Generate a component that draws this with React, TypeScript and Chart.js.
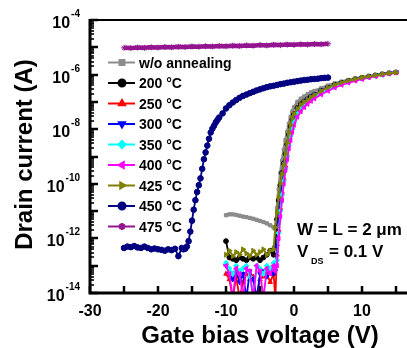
import React, { useEffect, useRef } from "react";
import { Chart, registerables } from "chart.js";
import { drawPoint } from "chart.js/helpers";

Chart.register(...registerables);

// Gate voltages for the annealed / as-deposited devices (V)
const VG_A = [-10, -9.5, -9, -8.5, -8, -7.5, -7, -6.5, -6, -5.5, -5, -4.5, -4, -3.5, -3,
  -2.75, -2.5, -2.25, -2, -1.75, -1.5, -1.25, -1, -0.75, -0.5, -0.25, 0,
  0.5, 1, 1.5, 2, 2.5, 3,
  4, 5, 6, 7, 8, 9, 10, 11, 12, 13, 14, 15];

// log10 of drain current (A)
const LOG_WO = [-11.15, -11.12, -11.12, -11.14, -11.17, -11.2, -11.22, -11.25, -11.28, -11.32, -11.36, -11.4, -11.45, -11.52, -11.6,
  -11.65, -10.9, -10.2, -9.6, -9.15, -8.75, -8.4, -8.1, -7.8, -7.55, -7.35, -7.2,
  -7.0, -6.88, -6.8, -6.72, -6.65, -6.6,
  -6.5, -6.4, -6.32, -6.26, -6.2, -6.15, -6.1, -6.06, -6.02, -5.98, -5.95, -5.92];
const LOG_200 = [-12.1, -12.7, -12.75, -12.8, -12.7, -12.75, -12.8, -12.7, -12.75, -12.7, -12.8, -12.7, -12.6, -12.45, -12.6,
  -12.3, -11.3, -10.6, -10.05, -9.6, -9.25, -8.9, -8.55, -8.2, -7.9, -7.65, -7.45,
  -7.22, -7.08, -6.98, -6.9, -6.81, -6.74,
  -6.6, -6.48, -6.38, -6.3, -6.23, -6.17, -6.12, -6.07, -6.03, -5.99, -5.95, -5.92];
const LOG_250 = [-13.3, -13.5, -14.2, -13.4, -14.2, -13.6, -13.3, -13.5, -13.4, -14.2, -13.5, -13.4, -13.3, -13.6, -13.3,
  -14.2, -12.6, -11.7, -10.9, -10.3, -9.8, -9.35, -8.95, -8.55, -8.2, -7.95, -7.7,
  -7.4, -7.2, -7.06, -6.95, -6.85, -6.77,
  -6.63, -6.52, -6.41, -6.33, -6.26, -6.2, -6.14, -6.09, -6.04, -6.0, -5.96, -5.92];
const LOG_300 = [-13.0, -13.3, -13.5, -13.2, -13.6, -13.3, -14.2, -13.2, -13.5, -14.2, -13.3, -13.2, -13.4, -13.1, -13.3,
  -13.2, -12.3, -11.4, -10.7, -10.1, -9.6, -9.2, -8.8, -8.45, -8.1, -7.85, -7.6,
  -7.3, -7.12, -7.0, -6.9, -6.8, -6.72,
  -6.58, -6.47, -6.38, -6.3, -6.23, -6.17, -6.12, -6.07, -6.02, -5.98, -5.95, -5.91];
const LOG_350 = [-12.9, -13.1, -13.3, -13.0, -13.2, -13.1, -13.0, -13.4, -14.2, -13.0, -13.1, -13.3, -13.0, -13.1, -12.9,
  -13.0, -12.8, -11.8, -11.0, -10.4, -9.9, -9.45, -9.0, -8.6, -8.25, -8.0, -7.75,
  -7.45, -7.25, -7.1, -6.98, -6.88, -6.8,
  -6.66, -6.54, -6.43, -6.34, -6.27, -6.2, -6.14, -6.09, -6.04, -6.0, -5.96, -5.92];
const LOG_400 = [-13.0, -13.3, -14.2, -13.1, -13.3, -14.2, -13.1, -13.2, -14.2, -13.0, -13.2, -14.2, -13.1, -13.3, -13.0,
  -13.2, -13.0, -12.0, -11.2, -10.6, -10.0, -9.5, -9.1, -8.7, -8.4, -8.1, -7.85,
  -7.55, -7.35, -7.2, -7.08, -6.97, -6.88,
  -6.73, -6.6, -6.48, -6.38, -6.3, -6.23, -6.17, -6.11, -6.06, -6.01, -5.97, -5.93];
const LOG_425 = [-12.6, -12.45, -12.65, -12.5, -12.6, -12.4, -12.55, -12.65, -12.45, -12.6, -12.5, -12.4, -12.6, -12.45, -12.4,
  -11.6, -11.05, -10.5, -10.0, -9.65, -9.3, -8.9, -8.5, -8.15, -7.85, -7.6, -7.45,
  -7.25, -7.1, -7.0, -6.92, -6.82, -6.74,
  -6.6, -6.47, -6.37, -6.29, -6.22, -6.16, -6.11, -6.06, -6.02, -5.98, -5.95, -5.92];

// 450 °C device
const VG_450 = [-25, -24.5, -24, -23.5, -23, -22.5, -22, -21.5, -21, -20.5, -20, -19.5, -19, -18.5, -18, -17.5, -17, -16.5,
  -16.25, -16, -15.75, -15.5, -15.25, -15, -14.75, -14.5, -14.25, -14, -13.75, -13.5, -13.25, -13, -12.75, -12.5, -12.25, -12, -11.75, -11.5, -11.25, -11,
  -10.5, -10, -9.5, -9, -8.5, -8, -7.5, -7, -6.5, -6, -5.5, -5, -4.5, -4, -3.5, -3, -2.5, -2, -1.5, -1, -0.5, 0, 0.5, 1, 1.5, 2, 2.5, 3, 3.5, 4, 4.5, 5];
const LOG_450 = [-12.35, -12.3, -12.32, -12.28, -12.33, -12.35, -12.3, -12.35, -12.4, -12.37, -12.4, -12.42, -12.45, -12.4, -12.43, -12.38, -12.65, -12.35,
  -12.4, -12.38, -12.3, -12.1, -11.75, -11.35, -10.95, -10.6, -10.3, -10.05, -9.8, -9.45, -9.1, -8.85, -8.6, -8.35, -8.12, -7.98, -7.87, -7.75, -7.66, -7.57,
  -7.42, -7.24, -7.12, -7.02, -6.93, -6.85, -6.78, -6.73, -6.68, -6.63, -6.58, -6.54, -6.5, -6.46, -6.43, -6.41, -6.38, -6.35, -6.33, -6.3, -6.28, -6.26, -6.24, -6.22, -6.2, -6.19, -6.17, -6.16, -6.15, -6.13, -6.12, -6.11];

// 475 °C device
const VG_475 = [-25, -24, -23, -22, -21, -20, -19, -18, -17, -16, -15, -14, -13, -12, -11, -10, -9, -8, -7, -6, -5, -4, -3, -2, -1, 0, 1, 2, 3, 4, 5];
const LOG_475 = [-5.02, -5.03, -5.01, -5.02, -5.0, -5.01, -4.99, -5.0, -4.98, -4.99, -4.97, -4.98, -4.96, -4.97, -4.95, -4.96, -4.94, -4.95, -4.93, -4.94, -4.92, -4.93, -4.91, -4.92, -4.9, -4.91, -4.89, -4.9, -4.88, -4.89, -4.87];

const SERIES = [
  { label: "w/o annealing", x: VG_A, y: LOG_WO, color: "#8c8c8c", style: "rect", rot: 0, lw: 3, r: 2.3 },
  { label: "200 °C", x: VG_A, y: LOG_200, color: "#000000", style: "circle", rot: 0, lw: 1.8, r: 2.4 },
  { label: "250 °C", x: VG_A, y: LOG_250, color: "#ff0000", style: "triangle", rot: 0, lw: 1.8, r: 2.6 },
  { label: "300 °C", x: VG_A, y: LOG_300, color: "#0000ff", style: "triangle", rot: 180, lw: 1.8, r: 2.6 },
  { label: "350 °C", x: VG_A, y: LOG_350, color: "#00ffff", style: "rectRot", rot: 0, lw: 1.8, r: 2.6 },
  { label: "400 °C", x: VG_A, y: LOG_400, color: "#ff00ff", style: "triangle", rot: -90, lw: 1.8, r: 2.6 },
  { label: "425 °C", x: VG_A, y: LOG_425, color: "#808000", style: "triangle", rot: 90, lw: 2, r: 2.8 },
  { label: "450 °C", x: VG_450, y: LOG_450, color: "#000080", style: "circle", rot: 0, lw: 1.8, r: 2.8 },
  { label: "475 °C", x: VG_475, y: LOG_475, color: "#93158f", style: "star", rot: 0, lw: 4.5, r: 3 },
];

const X_TICKS = [-30, -20, -10, 0, 10, 20];
const Y_LABEL_EXPS = [-4, -6, -8, -10, -12, -14];
const FONT = '"Liberation Sans", Arial, sans-serif';

const overlay = {
  id: "overlay",
  afterDraw(chart: any) {
    const { ctx, chartArea: a, scales } = chart;
    const xs = scales.x;
    const ys = scales.y;
    ctx.save();
    ctx.strokeStyle = "#000";
    ctx.fillStyle = "#000";
    // frame
    ctx.lineWidth = 2;
    ctx.beginPath();
    ctx.moveTo(a.left, a.top);
    ctx.lineTo(a.right, a.top);
    ctx.lineTo(a.right, a.bottom);
    ctx.stroke();
    ctx.lineWidth = 3;
    ctx.beginPath();
    ctx.moveTo(a.left, a.top - 1);
    ctx.lineTo(a.left, a.bottom);
    ctx.lineTo(a.right, a.bottom);
    ctx.stroke();
    // y ticks (inward)
    for (let e = -14; e <= -4; e++) {
      for (let m = 1; m <= 9; m++) {
        if (e === -4 && m > 1) break;
        const py = Math.round(ys.getPixelForValue(m * Math.pow(10, e)));
        const len = m === 1 ? 8 : 4;
        ctx.lineWidth = m === 1 ? 2.5 : 1.6;
        ctx.beginPath();
        ctx.moveTo(a.left, py);
        ctx.lineTo(a.left + len, py);
        ctx.stroke();
      }
    }
    // x ticks (inward)
    ctx.lineWidth = 2.5;
    for (let v = -30; v <= 20; v += 5) {
      const px = xs.getPixelForValue(v);
      ctx.beginPath();
      ctx.moveTo(px, a.bottom);
      ctx.lineTo(px, a.bottom - 7);
      ctx.stroke();
    }
    // x tick labels
    ctx.font = `bold 16px ${FONT}`;
    ctx.textAlign = "center";
    ctx.textBaseline = "alphabetic";
    for (const v of X_TICKS) {
      ctx.fillText(String(v), xs.getPixelForValue(v), a.bottom + 23);
    }
    // y tick labels with superscripts
    for (const e of Y_LABEL_EXPS) {
      const py = ys.getPixelForValue(Math.pow(10, e));
      ctx.font = `bold 10px ${FONT}`;
      const sup = String(e);
      const wSup = ctx.measureText(sup).width;
      ctx.font = `bold 16px ${FONT}`;
      const wBase = ctx.measureText("10").width;
      const right = 80;
      ctx.textAlign = "left";
      ctx.fillText("10", right - wSup - wBase - 1, py + 8);
      ctx.font = `bold 10px ${FONT}`;
      ctx.fillText(sup, right - wSup, py - 3);
    }
    // axis titles
    ctx.font = `bold 24px ${FONT}`;
    ctx.textAlign = "center";
    ctx.fillText("Gate bias voltage (V)", (a.left + a.right) / 2, 343);
    ctx.save();
    ctx.translate(32, (a.top + a.bottom) / 2 - 2);
    ctx.rotate(-Math.PI / 2);
    ctx.fillText("Drain current (A)", 0, 0);
    ctx.restore();
    // legend
    ctx.textAlign = "left";
    ctx.font = `bold 14px ${FONT}`;
    SERIES.forEach((s, i) => {
      const ry = 62.5 + i * 20.5;
      ctx.strokeStyle = s.color;
      ctx.fillStyle = s.color;
      ctx.lineWidth = 2;
      ctx.beginPath();
      ctx.moveTo(108, ry);
      ctx.lineTo(135, ry);
      ctx.stroke();
      drawPoint(ctx, { pointStyle: s.style, rotation: s.rot, radius: 3.5, borderWidth: 1 } as any, 122, ry);
      ctx.fillStyle = "#000";
      ctx.fillText(s.label, 139, ry + 5);
    });
    // annotation
    ctx.fillStyle = "#000";
    ctx.font = `bold 17px ${FONT}`;
    ctx.fillText("W = L = 2 μm", 297, 235);
    ctx.fillText("V", 297, 257);
    ctx.fillText("= 0.1 V", 329, 257);
    ctx.font = `bold 9px ${FONT}`;
    ctx.fillText("DS", 311, 264);
    ctx.restore();
  },
};

export default function App() {
  const ref = useRef<HTMLCanvasElement | null>(null);
  useEffect(() => {
    if (!ref.current) return;
    const n = SERIES.length;
    const chart = new Chart(ref.current, {
      type: "line",
      data: {
        datasets: SERIES.map((s, i) => ({
          label: s.label,
          data: s.x.map((v, k) => ({ x: v, y: Math.pow(10, s.y[k]) })),
          borderColor: s.color,
          backgroundColor: s.color,
          pointBackgroundColor: s.color,
          pointBorderColor: s.color,
          pointStyle: s.style as any,
          rotation: s.rot,
          pointRadius: s.r,
          pointBorderWidth: 1,
          borderWidth: s.lw,
          tension: 0,
          order: n - i,
        })),
      },
      options: {
        responsive: false,
        animation: false,
        events: [],
        layout: { padding: { left: 90, top: 20, right: 10, bottom: 55 } },
        plugins: { legend: { display: false }, tooltip: { enabled: false }, title: { display: false } },
        scales: {
          x: { type: "linear", min: -30, max: 20, display: false },
          y: { type: "logarithmic", min: 1e-14, max: 1e-4, display: false },
        },
      },
      plugins: [overlay],
    });
    return () => chart.destroy();
  }, []);
  return (
    <div style={{ position: "fixed", left: 0, top: 0, width: 407, height: 348, overflow: "hidden", background: "#fff" }}>
      <canvas ref={ref} width={440} height={348} style={{ display: "block" }} />
    </div>
  );
}
